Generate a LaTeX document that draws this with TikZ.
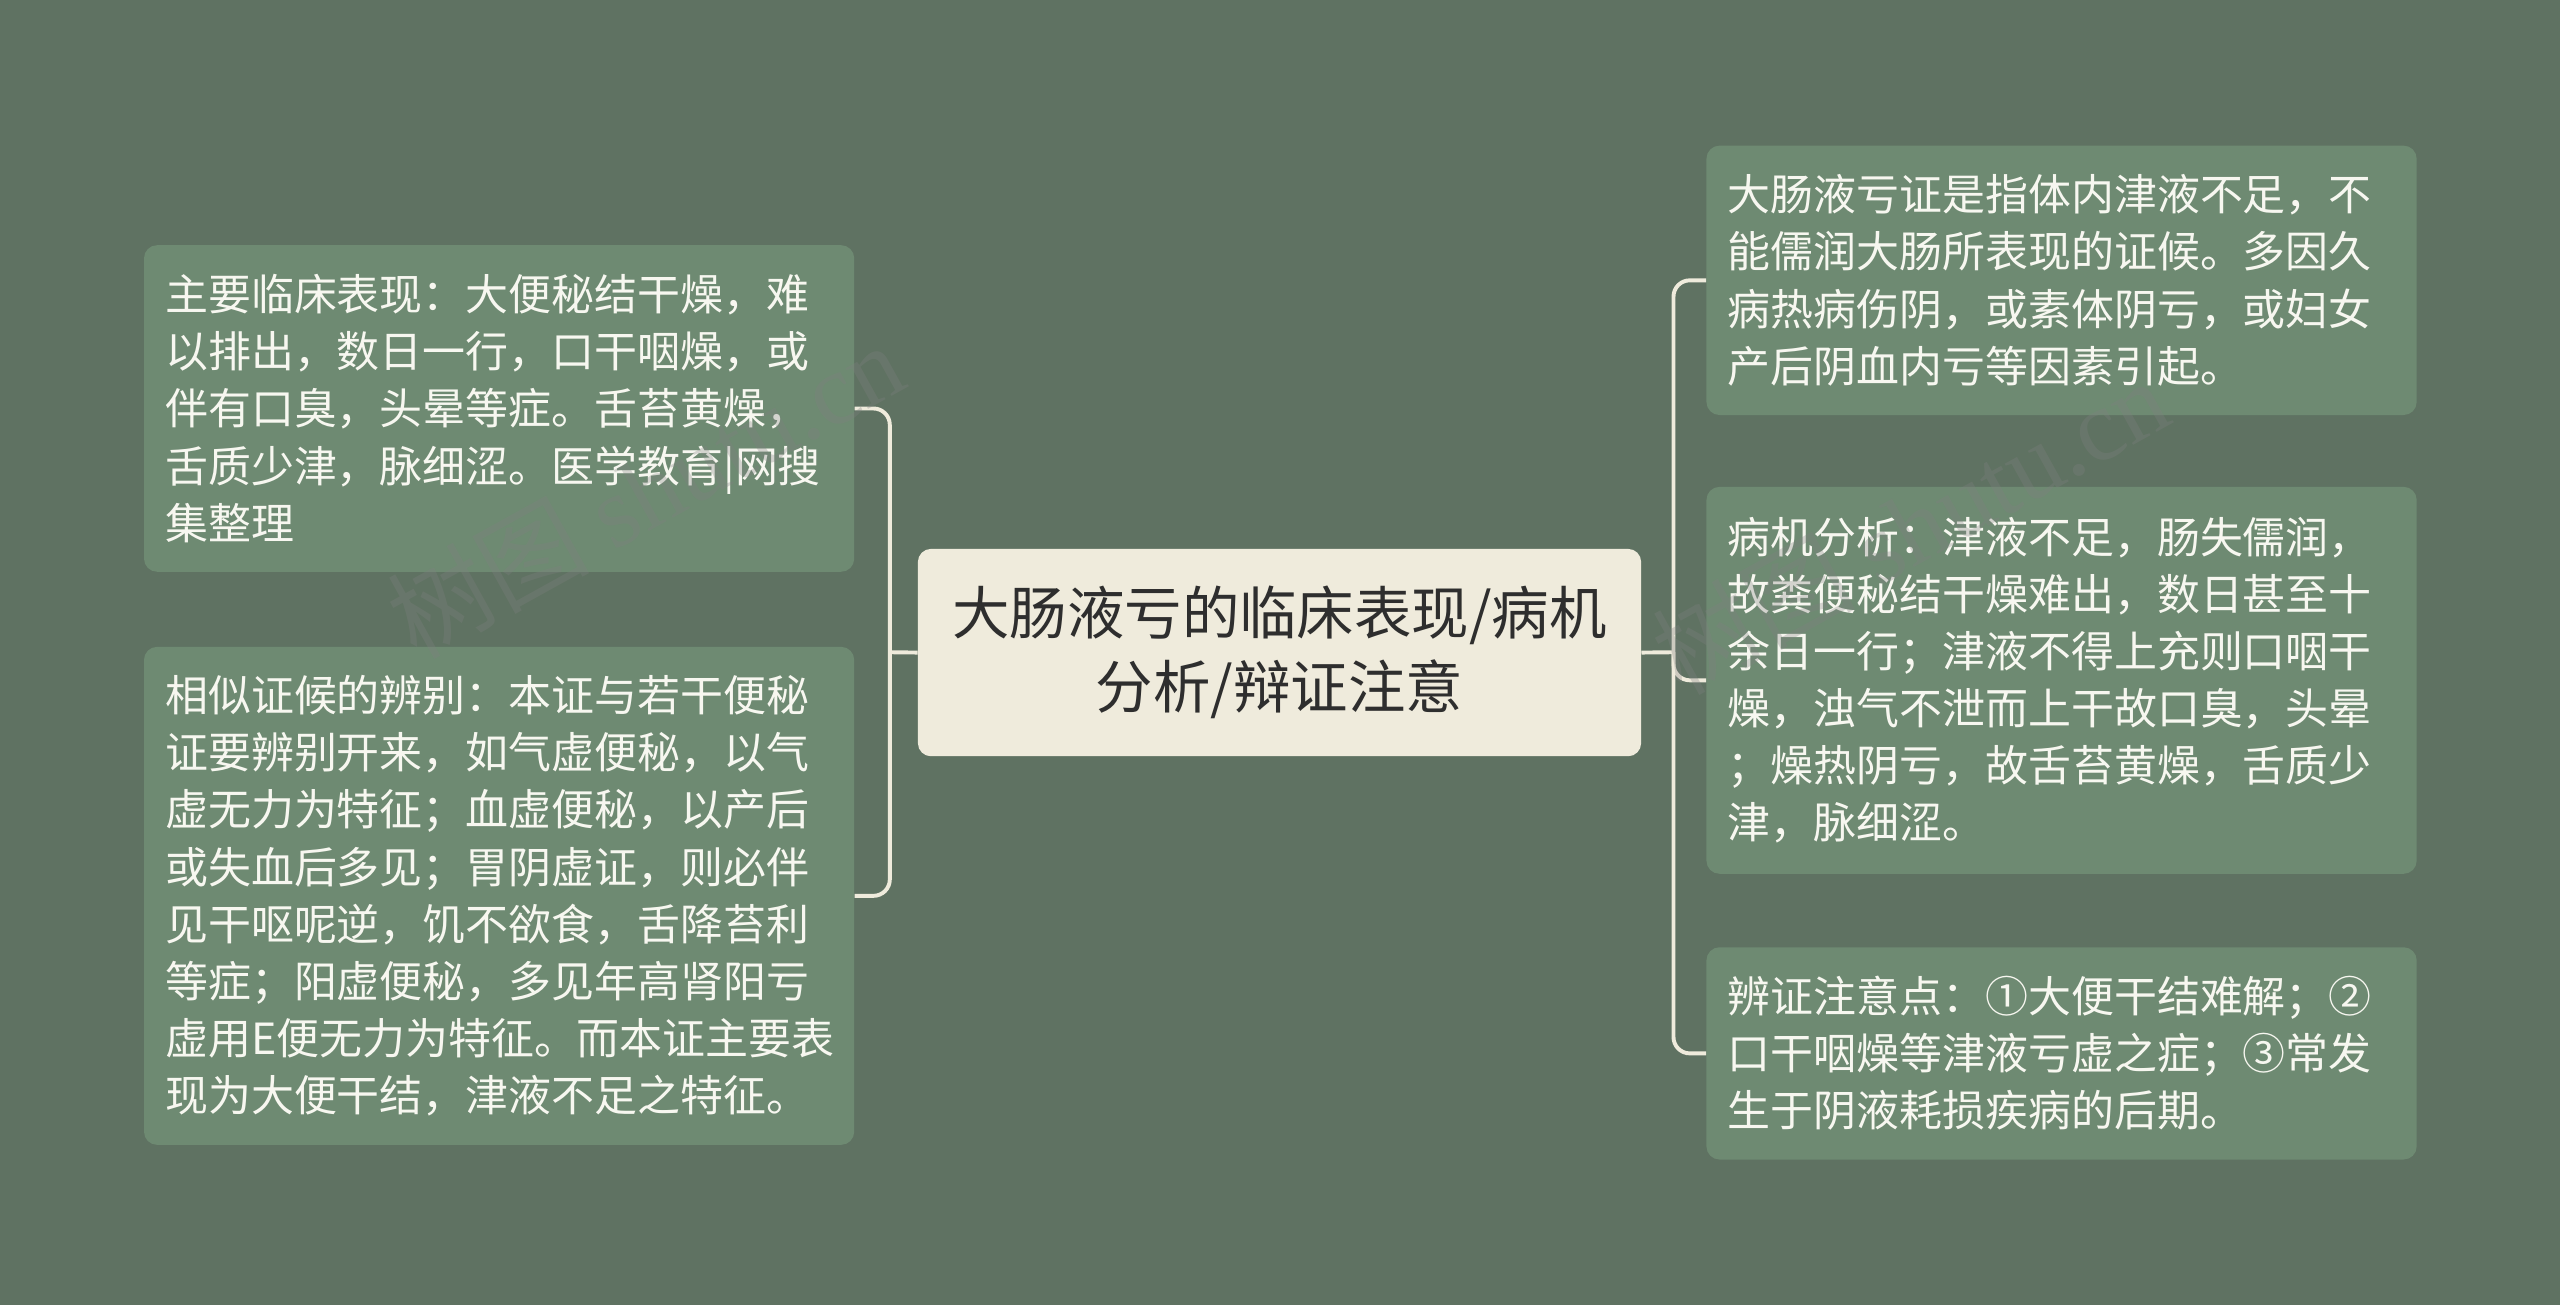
\documentclass[tikz,border=0pt]{standalone}
\usepackage{fontspec}
\setmainfont{Noto Sans CJK SC}
\newfontfamily\wmfont{Liberation Serif}
\definecolor{bgc}{HTML}{5F7262}
\definecolor{boxc}{HTML}{6E8A72}
\definecolor{creamc}{HTML}{EFEBDC}
\definecolor{darktxt}{HTML}{2E2E2E}
\definecolor{lighttxt}{HTML}{F7F7F0}
\tikzset{
  leafbox/.style={draw=none, fill=boxc, rounded corners=8pt, anchor=north west,
    minimum width=435pt, text width=409pt, inner xsep=13pt, inner ysep=0pt,
    align=left, text=lighttxt, font=\fontsize{26.3}{35}\selectfont},
  rootbox/.style={draw=none, fill=creamc, rounded corners=8pt, anchor=north west,
    minimum width=443pt, minimum height=127pt, align=center, text=darktxt,
    font=\fontsize{35.2}{45}\selectfont},
  conn/.style={draw=creamc, line width=2.4pt, rounded corners=10pt},
  wmark/.style={text=gray, opacity=0.3, font=\fontsize{62}{62}\selectfont, rotate=29}
}
\begin{document}
\begin{tikzpicture}[x=1pt,y=-1pt]
\useasboundingbox (0,0) rectangle (1568,799);
\fill[bgc] (0,0) rectangle (1568,799);

% root
\node[rootbox] (c) at (562,336) {大肠液亏的临床表现/病机\\分析/辩证注意};

% left boxes
\node[leafbox, minimum height=200pt] (l1) at (88,150) {主要临床表现：大便秘结干燥，难\\以排出，数日一行，口干咽燥，或\\伴有口臭，头晕等症。舌苔黄燥，\\舌质少津，脉细涩。医学教育|网搜\\集整理};
\node[leafbox, minimum height=305pt] (l2) at (88,396) {相似证候的辨别：本证与若干便秘\\证要辨别开来，如气虚便秘，以气\\虚无力为特征；血虚便秘，以产后\\或失血后多见；胃阴虚证，则必伴\\见干呕呢逆，饥不欲食，舌降苔利\\等症；阳虚便秘，多见年高肾阳亏\\虚用E便无力为特征。而本证主要表\\现为大便干结，津液不足之特征。};

% right boxes
\node[leafbox, minimum height=165pt] (r1) at (1045,89) {大肠液亏证是指体内津液不足，不\\能儒润大肠所表现的证候。多因久\\病热病伤阴，或素体阴亏，或妇女\\产后阴血内亏等因素引起。};
\node[leafbox, minimum height=237pt] (r2) at (1045,298) {病机分析：津液不足，肠失儒润，\\故粪便秘结干燥难出，数日甚至十\\余日一行；津液不得上充则口咽干\\燥，浊气不泄而上干故口臭，头晕\\；燥热阴亏，故舌苔黄燥，舌质少\\津，脉细涩。};
\node[leafbox, minimum height=130pt] (r3) at (1045,580) {辨证注意点：①大便干结难解；②\\口干咽燥等津液亏虚之症；③常发\\生于阴液耗损疾病的后期。};

% junctions
\coordinate (lj) at (545,399.5);
\coordinate (rj) at (1025,399.5);

% connectors
\draw[conn] (c.west) -- (lj);
\draw[conn] (l1.east) -- (lj |- l1.east) -- (lj |- l2.east) -- (l2.east);
\draw[conn] (c.east) -- (rj);
\draw[conn] (r1.west) -- (rj |- r1.west) -- (rj |- r3.west) -- (r3.west);
\draw[conn] (rj) -- (rj |- r2.west) -- (r2.west);

% watermarks
\node[wmark] (w1) at (395,300) {树图 {\wmfont shutu.cn}};
\node[wmark] (w2) at (1170,322) {树图 {\wmfont shutu.cn}};
\end{tikzpicture}
\end{document}
